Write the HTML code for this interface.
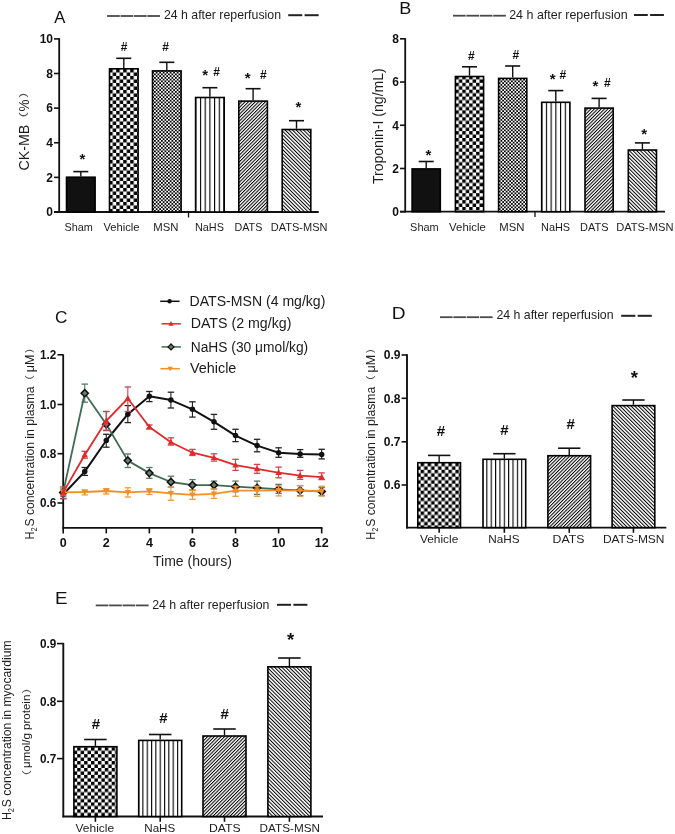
<!DOCTYPE html>
<html><head><meta charset="utf-8"><style>
html,body{margin:0;padding:0;background:#fff;}
svg{display:block;font-family:"Liberation Sans", sans-serif;}
</style></head><body>
<svg width="675" height="834" viewBox="0 0 675 834">
<rect width="675" height="834" fill="#fff"/>

<defs>
 <pattern id="chk" width="7" height="7" patternUnits="userSpaceOnUse">
  <rect width="7" height="7" fill="#fff"/>
  <rect width="3.5" height="3.5" fill="#000"/>
  <rect x="3.5" y="3.5" width="3.5" height="3.5" fill="#000"/>
 </pattern>
 <pattern id="fchk" width="3.5" height="3.5" patternUnits="userSpaceOnUse">
  <rect width="3.5" height="3.5" fill="#fff"/>
  <rect width="1.75" height="1.75" fill="#000"/>
  <rect x="1.75" y="1.75" width="1.75" height="1.75" fill="#000"/>
 </pattern>
 <pattern id="vl" width="4.8" height="10" patternUnits="userSpaceOnUse">
  <rect width="4.8" height="10" fill="#fff"/>
  <rect x="0" width="1.1" height="10" fill="#000"/>
 </pattern>
 <pattern id="dg1" width="2.4" height="10" patternUnits="userSpaceOnUse" patternTransform="rotate(45)">
  <rect width="2.4" height="10" fill="#fff"/>
  <rect width="1.02" height="10" fill="#000"/>
 </pattern>
 <pattern id="dg2" width="2.6" height="10" patternUnits="userSpaceOnUse" patternTransform="rotate(-45)">
  <rect width="2.6" height="10" fill="#fff"/>
  <rect width="1.0" height="10" fill="#000"/>
 </pattern>
</defs>

<defs><pattern id="chkA" x="109.2" y="68.95" width="7.0" height="7.0" patternUnits="userSpaceOnUse"><rect width="7.0" height="7.0" fill="#fff"/><rect width="3.5" height="3.5" fill="#000"/><rect x="3.5" y="3.5" width="3.5" height="3.5" fill="#000"/></pattern><pattern id="vlA" x="199.95" y="0" width="4.7" height="10" patternUnits="userSpaceOnUse"><rect width="4.7" height="10" fill="#fff"/><rect width="1.1" height="10" fill="#000"/></pattern><pattern id="chkB" x="455.4" y="75.9" width="6.9" height="6.9" patternUnits="userSpaceOnUse"><rect width="6.9" height="6.9" fill="#fff"/><rect width="3.45" height="3.45" fill="#000"/><rect x="3.45" y="3.45" width="3.45" height="3.45" fill="#000"/></pattern><pattern id="vlB" x="545.85" y="0" width="4.73" height="10" patternUnits="userSpaceOnUse"><rect width="4.73" height="10" fill="#fff"/><rect width="1.1" height="10" fill="#000"/></pattern><pattern id="chkD" x="420.65" y="462.85" width="6.95" height="6.95" patternUnits="userSpaceOnUse"><rect width="6.95" height="6.95" fill="#fff"/><rect width="3.475" height="3.475" fill="#000"/><rect x="3.475" y="3.475" width="3.475" height="3.475" fill="#000"/></pattern><pattern id="vlD" x="486.31" y="0" width="4.36" height="10" patternUnits="userSpaceOnUse"><rect width="4.36" height="10" fill="#fff"/><rect width="1.1" height="10" fill="#000"/></pattern><pattern id="chkE" x="77.2" y="747.25" width="6.9" height="6.9" patternUnits="userSpaceOnUse"><rect width="6.9" height="6.9" fill="#fff"/><rect width="3.45" height="3.45" fill="#000"/><rect x="3.45" y="3.45" width="3.45" height="3.45" fill="#000"/></pattern><pattern id="vlE" x="142.35" y="0" width="4.325" height="10" patternUnits="userSpaceOnUse"><rect width="4.325" height="10" fill="#fff"/><rect width="1.1" height="10" fill="#000"/></pattern></defs>
<g opacity="0.999">
<text x="54.35" y="23.0" font-size="17" font-weight="normal" text-anchor="start" fill="#111" textLength="11.09" lengthAdjust="spacingAndGlyphs">A</text>
<line x1="107.1" y1="16" x2="119.8" y2="16" stroke="#4a4a4a" stroke-width="1.8"/>
<line x1="120.5" y1="16" x2="133.2" y2="16" stroke="#4a4a4a" stroke-width="1.8"/>
<line x1="133.9" y1="16" x2="146.6" y2="16" stroke="#4a4a4a" stroke-width="1.8"/>
<line x1="147.3" y1="16" x2="160.0" y2="16" stroke="#4a4a4a" stroke-width="1.8"/>
<text x="163.9" y="18.8" font-size="12.4" font-weight="normal" text-anchor="start" fill="#1e1e1e" textLength="117.1" lengthAdjust="spacingAndGlyphs">24 h after reperfusion</text>
<line x1="288.2" y1="15.2" x2="302.3" y2="15.2" stroke="#222" stroke-width="2.0"/>
<line x1="304.6" y1="15.2" x2="318.7" y2="15.2" stroke="#222" stroke-width="2.0"/>
<line x1="59.2" y1="38.2" x2="59.2" y2="212.7" stroke="#111" stroke-width="1.8"/>
<line x1="54" y1="212.0" x2="318.7" y2="212.0" stroke="#111" stroke-width="1.8"/>
<line x1="54" y1="38.900000000000006" x2="59.2" y2="38.900000000000006" stroke="#111" stroke-width="1.6"/>
<text x="53" y="43.2" font-size="12" font-weight="bold" text-anchor="end" fill="#111">10</text>
<line x1="54" y1="73.52000000000001" x2="59.2" y2="73.52000000000001" stroke="#111" stroke-width="1.6"/>
<text x="53" y="77.82000000000001" font-size="12" font-weight="bold" text-anchor="end" fill="#111">8</text>
<line x1="54" y1="108.14000000000001" x2="59.2" y2="108.14000000000001" stroke="#111" stroke-width="1.6"/>
<text x="53" y="112.44000000000001" font-size="12" font-weight="bold" text-anchor="end" fill="#111">6</text>
<line x1="54" y1="142.76" x2="59.2" y2="142.76" stroke="#111" stroke-width="1.6"/>
<text x="53" y="147.06" font-size="12" font-weight="bold" text-anchor="end" fill="#111">4</text>
<line x1="54" y1="177.38" x2="59.2" y2="177.38" stroke="#111" stroke-width="1.6"/>
<text x="53" y="181.68" font-size="12" font-weight="bold" text-anchor="end" fill="#111">2</text>
<line x1="54" y1="212.0" x2="59.2" y2="212.0" stroke="#111" stroke-width="1.6"/>
<text x="53" y="216.3" font-size="12" font-weight="bold" text-anchor="end" fill="#111">0</text>
<line x1="188.5" y1="212.0" x2="188.5" y2="217.5" stroke="#111" stroke-width="1.3"/>
<line x1="80.8" y1="176.4" x2="80.8" y2="171.6" stroke="#111" stroke-width="1.4"/>
<line x1="73.3" y1="171.6" x2="88.3" y2="171.6" stroke="#111" stroke-width="1.6"/>
<rect x="66.50" y="177.20" width="28.60" height="34.80" fill="#111" stroke="#000" stroke-width="1.6"/>
<line x1="123.8" y1="68.0" x2="123.8" y2="58.3" stroke="#111" stroke-width="1.4"/>
<line x1="116.3" y1="58.3" x2="131.3" y2="58.3" stroke="#111" stroke-width="1.6"/>
<rect x="109.50" y="68.80" width="28.60" height="143.20" fill="url(#chkA)" stroke="#000" stroke-width="1.6"/>
<line x1="166.79999999999998" y1="70.1" x2="166.79999999999998" y2="62.3" stroke="#111" stroke-width="1.4"/>
<line x1="159.29999999999998" y1="62.3" x2="174.29999999999998" y2="62.3" stroke="#111" stroke-width="1.6"/>
<rect x="152.50" y="70.90" width="28.60" height="141.10" fill="url(#fchk)" stroke="#000" stroke-width="1.6"/>
<line x1="209.9" y1="96.7" x2="209.9" y2="87.7" stroke="#111" stroke-width="1.4"/>
<line x1="202.4" y1="87.7" x2="217.4" y2="87.7" stroke="#111" stroke-width="1.6"/>
<rect x="195.60" y="97.50" width="28.60" height="114.50" fill="url(#vlA)" stroke="#000" stroke-width="1.6"/>
<line x1="253.1" y1="100.3" x2="253.1" y2="88.7" stroke="#111" stroke-width="1.4"/>
<line x1="245.6" y1="88.7" x2="260.6" y2="88.7" stroke="#111" stroke-width="1.6"/>
<rect x="238.80" y="101.10" width="28.60" height="110.90" fill="url(#dg1)" stroke="#000" stroke-width="1.6"/>
<line x1="296.5" y1="128.7" x2="296.5" y2="120.7" stroke="#111" stroke-width="1.4"/>
<line x1="289.0" y1="120.7" x2="304.0" y2="120.7" stroke="#111" stroke-width="1.6"/>
<rect x="282.20" y="129.50" width="28.60" height="82.50" fill="url(#dg2)" stroke="#000" stroke-width="1.6"/>
<text x="82.47" y="163.75" font-size="15" font-weight="bold" text-anchor="middle" fill="#111">*</text>
<text x="124.04" y="50.6" font-size="12" font-weight="bold" text-anchor="middle" fill="#111">#</text>
<text x="165.49" y="50.85" font-size="12" font-weight="bold" text-anchor="middle" fill="#111">#</text>
<text x="205.27" y="80.15" font-size="15" font-weight="bold" text-anchor="middle" fill="#111">*</text>
<text x="216.49" y="75.6" font-size="12" font-weight="bold" text-anchor="middle" fill="#111">#</text>
<text x="247.57" y="83.35" font-size="15" font-weight="bold" text-anchor="middle" fill="#111">*</text>
<text x="263.34" y="79.05" font-size="12" font-weight="bold" text-anchor="middle" fill="#111">#</text>
<text x="298.47" y="111.85" font-size="15" font-weight="bold" text-anchor="middle" fill="#111">*</text>
<text x="64.5" y="231" font-size="11" font-weight="normal" text-anchor="start" fill="#1c1c1c" textLength="28.4" lengthAdjust="spacingAndGlyphs">Sham</text>
<text x="103.4" y="231" font-size="11" font-weight="normal" text-anchor="start" fill="#1c1c1c" textLength="36.2" lengthAdjust="spacingAndGlyphs">Vehicle</text>
<text x="153.2" y="231" font-size="11" font-weight="normal" text-anchor="start" fill="#1c1c1c" textLength="25.2" lengthAdjust="spacingAndGlyphs">MSN</text>
<text x="194.9" y="231" font-size="11" font-weight="normal" text-anchor="start" fill="#1c1c1c" textLength="29.0" lengthAdjust="spacingAndGlyphs">NaHS</text>
<text x="234.5" y="231" font-size="11" font-weight="normal" text-anchor="start" fill="#1c1c1c" textLength="27.8" lengthAdjust="spacingAndGlyphs">DATS</text>
<text x="270.8" y="231" font-size="11" font-weight="normal" text-anchor="start" fill="#1c1c1c" textLength="56.7" lengthAdjust="spacingAndGlyphs">DATS-MSN</text>
<g transform="translate(29.3,169.7) rotate(-90)"><text x="-0.8" y="0" font-size="15" fill="#1c1c1c" textLength="45.8" lengthAdjust="spacingAndGlyphs">CK-MB</text><text x="52.3" y="-2.9" font-size="8.6" fill="#555" textLength="5.3" lengthAdjust="spacingAndGlyphs">(</text><text x="58.3" y="0" font-size="15" fill="#1c1c1c" textLength="11.9" lengthAdjust="spacingAndGlyphs">%</text><text x="72.0" y="-2.9" font-size="8.6" fill="#555" textLength="5.0" lengthAdjust="spacingAndGlyphs">)</text></g>
<text x="399.31" y="13.9" font-size="17" font-weight="normal" text-anchor="start" fill="#111" textLength="12.03" lengthAdjust="spacingAndGlyphs">B</text>
<line x1="453.0" y1="15.7" x2="465.7" y2="15.7" stroke="#4a4a4a" stroke-width="1.8"/>
<line x1="466.4" y1="15.7" x2="479.1" y2="15.7" stroke="#4a4a4a" stroke-width="1.8"/>
<line x1="479.8" y1="15.7" x2="492.5" y2="15.7" stroke="#4a4a4a" stroke-width="1.8"/>
<line x1="493.2" y1="15.7" x2="505.9" y2="15.7" stroke="#4a4a4a" stroke-width="1.8"/>
<text x="509.2" y="18.8" font-size="12.4" font-weight="normal" text-anchor="start" fill="#1e1e1e" textLength="118.4" lengthAdjust="spacingAndGlyphs">24 h after reperfusion</text>
<line x1="634.0" y1="15.0" x2="647.8" y2="15.0" stroke="#222" stroke-width="2.0"/>
<line x1="650.1" y1="15.0" x2="663.9" y2="15.0" stroke="#222" stroke-width="2.0"/>
<line x1="405.2" y1="38.11999999999999" x2="405.2" y2="212.39999999999998" stroke="#111" stroke-width="1.8"/>
<line x1="400" y1="211.7" x2="665" y2="211.7" stroke="#111" stroke-width="1.8"/>
<line x1="400" y1="38.81999999999999" x2="405.2" y2="38.81999999999999" stroke="#111" stroke-width="1.6"/>
<text x="399" y="43.11999999999999" font-size="12" font-weight="bold" text-anchor="end" fill="#111">8</text>
<line x1="400" y1="82.03999999999999" x2="405.2" y2="82.03999999999999" stroke="#111" stroke-width="1.6"/>
<text x="399" y="86.33999999999999" font-size="12" font-weight="bold" text-anchor="end" fill="#111">6</text>
<line x1="400" y1="125.25999999999999" x2="405.2" y2="125.25999999999999" stroke="#111" stroke-width="1.6"/>
<text x="399" y="129.56" font-size="12" font-weight="bold" text-anchor="end" fill="#111">4</text>
<line x1="400" y1="168.48" x2="405.2" y2="168.48" stroke="#111" stroke-width="1.6"/>
<text x="399" y="172.78" font-size="12" font-weight="bold" text-anchor="end" fill="#111">2</text>
<line x1="400" y1="211.7" x2="405.2" y2="211.7" stroke="#111" stroke-width="1.6"/>
<text x="399" y="216.0" font-size="12" font-weight="bold" text-anchor="end" fill="#111">0</text>
<line x1="535" y1="211.7" x2="535" y2="217" stroke="#111" stroke-width="1.3"/>
<line x1="426.2" y1="168.1" x2="426.2" y2="161.5" stroke="#111" stroke-width="1.4"/>
<line x1="418.7" y1="161.5" x2="433.7" y2="161.5" stroke="#111" stroke-width="1.6"/>
<rect x="412.10" y="168.90" width="28.20" height="42.80" fill="#111" stroke="#000" stroke-width="1.6"/>
<line x1="469.5" y1="75.7" x2="469.5" y2="66.8" stroke="#111" stroke-width="1.4"/>
<line x1="462.0" y1="66.8" x2="477.0" y2="66.8" stroke="#111" stroke-width="1.6"/>
<rect x="455.40" y="76.50" width="28.20" height="135.20" fill="url(#chkB)" stroke="#000" stroke-width="1.6"/>
<line x1="512.7" y1="77.6" x2="512.7" y2="66.0" stroke="#111" stroke-width="1.4"/>
<line x1="505.20000000000005" y1="66.0" x2="520.2" y2="66.0" stroke="#111" stroke-width="1.6"/>
<rect x="498.60" y="78.40" width="28.20" height="133.30" fill="url(#fchk)" stroke="#000" stroke-width="1.6"/>
<line x1="555.8" y1="101.5" x2="555.8" y2="90.6" stroke="#111" stroke-width="1.4"/>
<line x1="548.3" y1="90.6" x2="563.3" y2="90.6" stroke="#111" stroke-width="1.6"/>
<rect x="541.70" y="102.30" width="28.20" height="109.40" fill="url(#vlB)" stroke="#000" stroke-width="1.6"/>
<line x1="599.1" y1="107.3" x2="599.1" y2="98.4" stroke="#111" stroke-width="1.4"/>
<line x1="591.6" y1="98.4" x2="606.6" y2="98.4" stroke="#111" stroke-width="1.6"/>
<rect x="585.00" y="108.10" width="28.20" height="103.60" fill="url(#dg1)" stroke="#000" stroke-width="1.6"/>
<line x1="642.4" y1="149.2" x2="642.4" y2="142.9" stroke="#111" stroke-width="1.4"/>
<line x1="634.9" y1="142.9" x2="649.9" y2="142.9" stroke="#111" stroke-width="1.6"/>
<rect x="628.30" y="150.00" width="28.20" height="61.70" fill="url(#dg2)" stroke="#000" stroke-width="1.6"/>
<text x="428.47" y="159.55" font-size="15" font-weight="bold" text-anchor="middle" fill="#111">*</text>
<text x="471.34" y="59.55" font-size="12" font-weight="bold" text-anchor="middle" fill="#111">#</text>
<text x="515.74" y="58.85" font-size="12" font-weight="bold" text-anchor="middle" fill="#111">#</text>
<text x="552.67" y="84.15" font-size="15" font-weight="bold" text-anchor="middle" fill="#111">*</text>
<text x="562.84" y="79.25" font-size="12" font-weight="bold" text-anchor="middle" fill="#111">#</text>
<text x="595.47" y="91.05" font-size="15" font-weight="bold" text-anchor="middle" fill="#111">*</text>
<text x="607.44" y="86.95" font-size="12" font-weight="bold" text-anchor="middle" fill="#111">#</text>
<text x="644.27" y="138.95" font-size="15" font-weight="bold" text-anchor="middle" fill="#111">*</text>
<text x="410.1" y="231.3" font-size="11" font-weight="normal" text-anchor="start" fill="#1c1c1c" textLength="28.6" lengthAdjust="spacingAndGlyphs">Sham</text>
<text x="449.1" y="231.3" font-size="11" font-weight="normal" text-anchor="start" fill="#1c1c1c" textLength="36.7" lengthAdjust="spacingAndGlyphs">Vehicle</text>
<text x="499.2" y="231.3" font-size="11" font-weight="normal" text-anchor="start" fill="#1c1c1c" textLength="25.2" lengthAdjust="spacingAndGlyphs">MSN</text>
<text x="541.0" y="231.3" font-size="11" font-weight="normal" text-anchor="start" fill="#1c1c1c" textLength="29.1" lengthAdjust="spacingAndGlyphs">NaHS</text>
<text x="580.1" y="231.3" font-size="11" font-weight="normal" text-anchor="start" fill="#1c1c1c" textLength="28.4" lengthAdjust="spacingAndGlyphs">DATS</text>
<text x="616.2" y="231.3" font-size="11" font-weight="normal" text-anchor="start" fill="#1c1c1c" textLength="57.3" lengthAdjust="spacingAndGlyphs">DATS-MSN</text>
<g transform="translate(382.9,183.8) rotate(-90)"><text x="-0.3" y="0" font-size="14.3" fill="#1c1c1c" textLength="115.9" lengthAdjust="spacingAndGlyphs">Troponin-I (ng/mL)</text></g>
<text x="55.14" y="322.6" font-size="17" font-weight="normal" text-anchor="start" fill="#111" textLength="12.45" lengthAdjust="spacingAndGlyphs">C</text>
<line x1="63.2" y1="354.3" x2="63.2" y2="528.6999999999999" stroke="#111" stroke-width="1.8"/>
<line x1="62.400000000000006" y1="527.9" x2="322.48" y2="527.9" stroke="#111" stroke-width="1.8"/>
<line x1="57.5" y1="354.8" x2="63.2" y2="354.8" stroke="#111" stroke-width="1.6"/>
<text x="56.4" y="359.15000000000003" font-size="12.5" font-weight="bold" text-anchor="end" fill="#111" textLength="16.3" lengthAdjust="spacingAndGlyphs">1.2</text>
<line x1="57.5" y1="404.5" x2="63.2" y2="404.5" stroke="#111" stroke-width="1.6"/>
<text x="56.4" y="408.85" font-size="12.5" font-weight="bold" text-anchor="end" fill="#111" textLength="16.3" lengthAdjust="spacingAndGlyphs">1.0</text>
<line x1="57.5" y1="453.7" x2="63.2" y2="453.7" stroke="#111" stroke-width="1.6"/>
<text x="56.4" y="458.05" font-size="12.5" font-weight="bold" text-anchor="end" fill="#111" textLength="16.3" lengthAdjust="spacingAndGlyphs">0.8</text>
<line x1="57.5" y1="503.0" x2="63.2" y2="503.0" stroke="#111" stroke-width="1.6"/>
<text x="56.4" y="507.35" font-size="12.5" font-weight="bold" text-anchor="end" fill="#111" textLength="16.3" lengthAdjust="spacingAndGlyphs">0.6</text>
<line x1="63.2" y1="527.9" x2="63.2" y2="533.4" stroke="#111" stroke-width="1.6"/>
<text x="63.2" y="546.5" font-size="12.5" font-weight="bold" text-anchor="middle" fill="#111">0</text>
<line x1="106.28" y1="527.9" x2="106.28" y2="533.4" stroke="#111" stroke-width="1.6"/>
<text x="106.28" y="546.5" font-size="12.5" font-weight="bold" text-anchor="middle" fill="#111">2</text>
<line x1="149.36" y1="527.9" x2="149.36" y2="533.4" stroke="#111" stroke-width="1.6"/>
<text x="149.36" y="546.5" font-size="12.5" font-weight="bold" text-anchor="middle" fill="#111">4</text>
<line x1="192.44" y1="527.9" x2="192.44" y2="533.4" stroke="#111" stroke-width="1.6"/>
<text x="192.44" y="546.5" font-size="12.5" font-weight="bold" text-anchor="middle" fill="#111">6</text>
<line x1="235.51999999999998" y1="527.9" x2="235.51999999999998" y2="533.4" stroke="#111" stroke-width="1.6"/>
<text x="235.51999999999998" y="546.5" font-size="12.5" font-weight="bold" text-anchor="middle" fill="#111">8</text>
<line x1="278.59999999999997" y1="527.9" x2="278.59999999999997" y2="533.4" stroke="#111" stroke-width="1.6"/>
<text x="278.59999999999997" y="546.5" font-size="12.5" font-weight="bold" text-anchor="middle" fill="#111">10</text>
<line x1="321.68" y1="527.9" x2="321.68" y2="533.4" stroke="#111" stroke-width="1.6"/>
<text x="321.68" y="546.5" font-size="12.5" font-weight="bold" text-anchor="middle" fill="#111">12</text>
<text x="153.0" y="565.8" font-size="14" font-weight="normal" text-anchor="start" fill="#222" textLength="78.8" lengthAdjust="spacingAndGlyphs">Time (hours)</text>
<g transform="translate(33.6,538.6) rotate(-90)"><text x="-0.6" y="0" font-size="12.2" fill="#1c1c1c" textLength="7.6" lengthAdjust="spacingAndGlyphs">H</text><text x="7.0" y="3.2" font-size="8.9" fill="#1c1c1c" textLength="4.2" lengthAdjust="spacingAndGlyphs">2</text><text x="12.0" y="0" font-size="12.2" fill="#1c1c1c" textLength="140.0" lengthAdjust="spacingAndGlyphs">S concentration in plasma</text><text x="159.0" y="-1.8" font-size="9" fill="#444" textLength="4.0" lengthAdjust="spacingAndGlyphs">(</text><text x="166.3" y="0" font-size="12.2" fill="#1c1c1c" textLength="17.7" lengthAdjust="spacingAndGlyphs">μM</text><text x="185.8" y="-1.8" font-size="9" fill="#444" textLength="3.8" lengthAdjust="spacingAndGlyphs">)</text></g>
<line x1="63.2" y1="490.5" x2="63.2" y2="498.5" stroke="#222" stroke-width="1.1"/>
<line x1="60.0" y1="490.5" x2="66.4" y2="490.5" stroke="#222" stroke-width="1.3"/>
<line x1="60.0" y1="498.5" x2="66.4" y2="498.5" stroke="#222" stroke-width="1.3"/>
<line x1="84.74000000000001" y1="467.5" x2="84.74000000000001" y2="475.4" stroke="#222" stroke-width="1.1"/>
<line x1="81.54" y1="467.5" x2="87.94000000000001" y2="467.5" stroke="#222" stroke-width="1.3"/>
<line x1="81.54" y1="475.4" x2="87.94000000000001" y2="475.4" stroke="#222" stroke-width="1.3"/>
<line x1="106.28" y1="434.3" x2="106.28" y2="447.2" stroke="#222" stroke-width="1.1"/>
<line x1="103.08" y1="434.3" x2="109.48" y2="434.3" stroke="#222" stroke-width="1.3"/>
<line x1="103.08" y1="447.2" x2="109.48" y2="447.2" stroke="#222" stroke-width="1.3"/>
<line x1="127.82000000000001" y1="405.6" x2="127.82000000000001" y2="422.6" stroke="#222" stroke-width="1.1"/>
<line x1="124.62" y1="405.6" x2="131.02" y2="405.6" stroke="#222" stroke-width="1.3"/>
<line x1="124.62" y1="422.6" x2="131.02" y2="422.6" stroke="#222" stroke-width="1.3"/>
<line x1="149.36" y1="391.5" x2="149.36" y2="401.6" stroke="#222" stroke-width="1.1"/>
<line x1="146.16000000000003" y1="391.5" x2="152.56" y2="391.5" stroke="#222" stroke-width="1.3"/>
<line x1="146.16000000000003" y1="401.6" x2="152.56" y2="401.6" stroke="#222" stroke-width="1.3"/>
<line x1="170.89999999999998" y1="392.2" x2="170.89999999999998" y2="408" stroke="#222" stroke-width="1.1"/>
<line x1="167.7" y1="392.2" x2="174.09999999999997" y2="392.2" stroke="#222" stroke-width="1.3"/>
<line x1="167.7" y1="408" x2="174.09999999999997" y2="408" stroke="#222" stroke-width="1.3"/>
<line x1="192.44" y1="401.8" x2="192.44" y2="417.1" stroke="#222" stroke-width="1.1"/>
<line x1="189.24" y1="401.8" x2="195.64" y2="401.8" stroke="#222" stroke-width="1.3"/>
<line x1="189.24" y1="417.1" x2="195.64" y2="417.1" stroke="#222" stroke-width="1.3"/>
<line x1="213.98000000000002" y1="414.4" x2="213.98000000000002" y2="429.3" stroke="#222" stroke-width="1.1"/>
<line x1="210.78000000000003" y1="414.4" x2="217.18" y2="414.4" stroke="#222" stroke-width="1.3"/>
<line x1="210.78000000000003" y1="429.3" x2="217.18" y2="429.3" stroke="#222" stroke-width="1.3"/>
<line x1="235.51999999999998" y1="429.3" x2="235.51999999999998" y2="441.6" stroke="#222" stroke-width="1.1"/>
<line x1="232.32" y1="429.3" x2="238.71999999999997" y2="429.3" stroke="#222" stroke-width="1.3"/>
<line x1="232.32" y1="441.6" x2="238.71999999999997" y2="441.6" stroke="#222" stroke-width="1.3"/>
<line x1="257.06" y1="439.3" x2="257.06" y2="451.8" stroke="#222" stroke-width="1.1"/>
<line x1="253.86" y1="439.3" x2="260.26" y2="439.3" stroke="#222" stroke-width="1.3"/>
<line x1="253.86" y1="451.8" x2="260.26" y2="451.8" stroke="#222" stroke-width="1.3"/>
<line x1="278.59999999999997" y1="447.8" x2="278.59999999999997" y2="457.3" stroke="#222" stroke-width="1.1"/>
<line x1="275.4" y1="447.8" x2="281.79999999999995" y2="447.8" stroke="#222" stroke-width="1.3"/>
<line x1="275.4" y1="457.3" x2="281.79999999999995" y2="457.3" stroke="#222" stroke-width="1.3"/>
<line x1="300.14" y1="449.6" x2="300.14" y2="457.3" stroke="#222" stroke-width="1.1"/>
<line x1="296.94" y1="449.6" x2="303.34" y2="449.6" stroke="#222" stroke-width="1.3"/>
<line x1="296.94" y1="457.3" x2="303.34" y2="457.3" stroke="#222" stroke-width="1.3"/>
<line x1="321.68" y1="449.3" x2="321.68" y2="458.9" stroke="#222" stroke-width="1.1"/>
<line x1="318.48" y1="449.3" x2="324.88" y2="449.3" stroke="#222" stroke-width="1.3"/>
<line x1="318.48" y1="458.9" x2="324.88" y2="458.9" stroke="#222" stroke-width="1.3"/>
<path d="M63.20,494.50 L84.74,471.60 L106.28,440.50 L127.82,414.20 L149.36,396.30 L170.90,400.10 L192.44,409.30 L213.98,421.80 L235.52,435.60 L257.06,445.60 L278.60,452.70 L300.14,454.00 L321.68,454.40" fill="none" stroke="#111" stroke-width="2.0" stroke-linejoin="round"/>
<circle cx="63.20" cy="494.50" r="2.75" fill="#111"/>
<circle cx="84.74" cy="471.60" r="2.75" fill="#111"/>
<circle cx="106.28" cy="440.50" r="2.75" fill="#111"/>
<circle cx="127.82" cy="414.20" r="2.75" fill="#111"/>
<circle cx="149.36" cy="396.30" r="2.75" fill="#111"/>
<circle cx="170.90" cy="400.10" r="2.75" fill="#111"/>
<circle cx="192.44" cy="409.30" r="2.75" fill="#111"/>
<circle cx="213.98" cy="421.80" r="2.75" fill="#111"/>
<circle cx="235.52" cy="435.60" r="2.75" fill="#111"/>
<circle cx="257.06" cy="445.60" r="2.75" fill="#111"/>
<circle cx="278.60" cy="452.70" r="2.75" fill="#111"/>
<circle cx="300.14" cy="454.00" r="2.75" fill="#111"/>
<circle cx="321.68" cy="454.40" r="2.75" fill="#111"/>
<line x1="63.2" y1="489" x2="63.2" y2="496" stroke="#557766" stroke-width="1.1"/>
<line x1="60.0" y1="489" x2="66.4" y2="489" stroke="#557766" stroke-width="1.3"/>
<line x1="60.0" y1="496" x2="66.4" y2="496" stroke="#557766" stroke-width="1.3"/>
<line x1="84.74000000000001" y1="384.1" x2="84.74000000000001" y2="402.2" stroke="#557766" stroke-width="1.1"/>
<line x1="81.54" y1="384.1" x2="87.94000000000001" y2="384.1" stroke="#557766" stroke-width="1.3"/>
<line x1="81.54" y1="402.2" x2="87.94000000000001" y2="402.2" stroke="#557766" stroke-width="1.3"/>
<line x1="106.28" y1="411.5" x2="106.28" y2="430.6" stroke="#557766" stroke-width="1.1"/>
<line x1="103.08" y1="411.5" x2="109.48" y2="411.5" stroke="#557766" stroke-width="1.3"/>
<line x1="103.08" y1="430.6" x2="109.48" y2="430.6" stroke="#557766" stroke-width="1.3"/>
<line x1="127.82000000000001" y1="454" x2="127.82000000000001" y2="467.5" stroke="#557766" stroke-width="1.1"/>
<line x1="124.62" y1="454" x2="131.02" y2="454" stroke="#557766" stroke-width="1.3"/>
<line x1="124.62" y1="467.5" x2="131.02" y2="467.5" stroke="#557766" stroke-width="1.3"/>
<line x1="149.36" y1="467.5" x2="149.36" y2="478.3" stroke="#557766" stroke-width="1.1"/>
<line x1="146.16000000000003" y1="467.5" x2="152.56" y2="467.5" stroke="#557766" stroke-width="1.3"/>
<line x1="146.16000000000003" y1="478.3" x2="152.56" y2="478.3" stroke="#557766" stroke-width="1.3"/>
<line x1="170.89999999999998" y1="476.2" x2="170.89999999999998" y2="487.2" stroke="#557766" stroke-width="1.1"/>
<line x1="167.7" y1="476.2" x2="174.09999999999997" y2="476.2" stroke="#557766" stroke-width="1.3"/>
<line x1="167.7" y1="487.2" x2="174.09999999999997" y2="487.2" stroke="#557766" stroke-width="1.3"/>
<line x1="192.44" y1="479.6" x2="192.44" y2="490" stroke="#557766" stroke-width="1.1"/>
<line x1="189.24" y1="479.6" x2="195.64" y2="479.6" stroke="#557766" stroke-width="1.3"/>
<line x1="189.24" y1="490" x2="195.64" y2="490" stroke="#557766" stroke-width="1.3"/>
<line x1="213.98000000000002" y1="481.1" x2="213.98000000000002" y2="488.9" stroke="#557766" stroke-width="1.1"/>
<line x1="210.78000000000003" y1="481.1" x2="217.18" y2="481.1" stroke="#557766" stroke-width="1.3"/>
<line x1="210.78000000000003" y1="488.9" x2="217.18" y2="488.9" stroke="#557766" stroke-width="1.3"/>
<line x1="235.51999999999998" y1="481.1" x2="235.51999999999998" y2="491.8" stroke="#557766" stroke-width="1.1"/>
<line x1="232.32" y1="481.1" x2="238.71999999999997" y2="481.1" stroke="#557766" stroke-width="1.3"/>
<line x1="232.32" y1="491.8" x2="238.71999999999997" y2="491.8" stroke="#557766" stroke-width="1.3"/>
<line x1="257.06" y1="481.1" x2="257.06" y2="494.4" stroke="#557766" stroke-width="1.1"/>
<line x1="253.86" y1="481.1" x2="260.26" y2="481.1" stroke="#557766" stroke-width="1.3"/>
<line x1="253.86" y1="494.4" x2="260.26" y2="494.4" stroke="#557766" stroke-width="1.3"/>
<line x1="278.59999999999997" y1="484.4" x2="278.59999999999997" y2="493.3" stroke="#557766" stroke-width="1.1"/>
<line x1="275.4" y1="484.4" x2="281.79999999999995" y2="484.4" stroke="#557766" stroke-width="1.3"/>
<line x1="275.4" y1="493.3" x2="281.79999999999995" y2="493.3" stroke="#557766" stroke-width="1.3"/>
<line x1="300.14" y1="485.6" x2="300.14" y2="495.6" stroke="#557766" stroke-width="1.1"/>
<line x1="296.94" y1="485.6" x2="303.34" y2="485.6" stroke="#557766" stroke-width="1.3"/>
<line x1="296.94" y1="495.6" x2="303.34" y2="495.6" stroke="#557766" stroke-width="1.3"/>
<line x1="321.68" y1="487.3" x2="321.68" y2="495.6" stroke="#557766" stroke-width="1.1"/>
<line x1="318.48" y1="487.3" x2="324.88" y2="487.3" stroke="#557766" stroke-width="1.3"/>
<line x1="318.48" y1="495.6" x2="324.88" y2="495.6" stroke="#557766" stroke-width="1.3"/>
<path d="M63.20,492.40 L84.74,393.20 L106.28,424.30 L127.82,460.60 L149.36,473.10 L170.90,482.00 L192.44,485.10 L213.98,485.10 L235.52,486.70 L257.06,487.80 L278.60,489.30 L300.14,490.40 L321.68,491.60" fill="none" stroke="#3f6b55" stroke-width="1.8" stroke-linejoin="round"/>
<path d="M63.20,488.80 L66.80,492.40 L63.20,496.00 L59.60,492.40 Z" fill="#6e7a72" stroke="#111" stroke-width="1.5"/>
<path d="M84.74,389.60 L88.34,393.20 L84.74,396.80 L81.14,393.20 Z" fill="#6e7a72" stroke="#111" stroke-width="1.5"/>
<path d="M106.28,420.70 L109.88,424.30 L106.28,427.90 L102.68,424.30 Z" fill="#6e7a72" stroke="#111" stroke-width="1.5"/>
<path d="M127.82,457.00 L131.42,460.60 L127.82,464.20 L124.22,460.60 Z" fill="#6e7a72" stroke="#111" stroke-width="1.5"/>
<path d="M149.36,469.50 L152.96,473.10 L149.36,476.70 L145.76,473.10 Z" fill="#6e7a72" stroke="#111" stroke-width="1.5"/>
<path d="M170.90,478.40 L174.50,482.00 L170.90,485.60 L167.30,482.00 Z" fill="#6e7a72" stroke="#111" stroke-width="1.5"/>
<path d="M192.44,481.50 L196.04,485.10 L192.44,488.70 L188.84,485.10 Z" fill="#6e7a72" stroke="#111" stroke-width="1.5"/>
<path d="M213.98,481.50 L217.58,485.10 L213.98,488.70 L210.38,485.10 Z" fill="#6e7a72" stroke="#111" stroke-width="1.5"/>
<path d="M235.52,483.10 L239.12,486.70 L235.52,490.30 L231.92,486.70 Z" fill="#6e7a72" stroke="#111" stroke-width="1.5"/>
<path d="M257.06,484.20 L260.66,487.80 L257.06,491.40 L253.46,487.80 Z" fill="#6e7a72" stroke="#111" stroke-width="1.5"/>
<path d="M278.60,485.70 L282.20,489.30 L278.60,492.90 L275.00,489.30 Z" fill="#6e7a72" stroke="#111" stroke-width="1.5"/>
<path d="M300.14,486.80 L303.74,490.40 L300.14,494.00 L296.54,490.40 Z" fill="#6e7a72" stroke="#111" stroke-width="1.5"/>
<path d="M321.68,488.00 L325.28,491.60 L321.68,495.20 L318.08,491.60 Z" fill="#6e7a72" stroke="#111" stroke-width="1.5"/>
<line x1="63.2" y1="490" x2="63.2" y2="495" stroke="#f09a40" stroke-width="1.1"/>
<line x1="60.0" y1="490" x2="66.4" y2="490" stroke="#f09a40" stroke-width="1.3"/>
<line x1="60.0" y1="495" x2="66.4" y2="495" stroke="#f09a40" stroke-width="1.3"/>
<line x1="84.74000000000001" y1="490" x2="84.74000000000001" y2="494.9" stroke="#f09a40" stroke-width="1.1"/>
<line x1="81.54" y1="490" x2="87.94000000000001" y2="490" stroke="#f09a40" stroke-width="1.3"/>
<line x1="81.54" y1="494.9" x2="87.94000000000001" y2="494.9" stroke="#f09a40" stroke-width="1.3"/>
<line x1="106.28" y1="488.6" x2="106.28" y2="494" stroke="#f09a40" stroke-width="1.1"/>
<line x1="103.08" y1="488.6" x2="109.48" y2="488.6" stroke="#f09a40" stroke-width="1.3"/>
<line x1="103.08" y1="494" x2="109.48" y2="494" stroke="#f09a40" stroke-width="1.3"/>
<line x1="127.82000000000001" y1="487.8" x2="127.82000000000001" y2="497" stroke="#f09a40" stroke-width="1.1"/>
<line x1="124.62" y1="487.8" x2="131.02" y2="487.8" stroke="#f09a40" stroke-width="1.3"/>
<line x1="124.62" y1="497" x2="131.02" y2="497" stroke="#f09a40" stroke-width="1.3"/>
<line x1="149.36" y1="488.6" x2="149.36" y2="494.5" stroke="#f09a40" stroke-width="1.1"/>
<line x1="146.16000000000003" y1="488.6" x2="152.56" y2="488.6" stroke="#f09a40" stroke-width="1.3"/>
<line x1="146.16000000000003" y1="494.5" x2="152.56" y2="494.5" stroke="#f09a40" stroke-width="1.3"/>
<line x1="170.89999999999998" y1="487.2" x2="170.89999999999998" y2="500.3" stroke="#f09a40" stroke-width="1.1"/>
<line x1="167.7" y1="487.2" x2="174.09999999999997" y2="487.2" stroke="#f09a40" stroke-width="1.3"/>
<line x1="167.7" y1="500.3" x2="174.09999999999997" y2="500.3" stroke="#f09a40" stroke-width="1.3"/>
<line x1="192.44" y1="490.7" x2="192.44" y2="499.3" stroke="#f09a40" stroke-width="1.1"/>
<line x1="189.24" y1="490.7" x2="195.64" y2="490.7" stroke="#f09a40" stroke-width="1.3"/>
<line x1="189.24" y1="499.3" x2="195.64" y2="499.3" stroke="#f09a40" stroke-width="1.3"/>
<line x1="213.98000000000002" y1="488.9" x2="213.98000000000002" y2="498.4" stroke="#f09a40" stroke-width="1.1"/>
<line x1="210.78000000000003" y1="488.9" x2="217.18" y2="488.9" stroke="#f09a40" stroke-width="1.3"/>
<line x1="210.78000000000003" y1="498.4" x2="217.18" y2="498.4" stroke="#f09a40" stroke-width="1.3"/>
<line x1="235.51999999999998" y1="486.3" x2="235.51999999999998" y2="496.3" stroke="#f09a40" stroke-width="1.1"/>
<line x1="232.32" y1="486.3" x2="238.71999999999997" y2="486.3" stroke="#f09a40" stroke-width="1.3"/>
<line x1="232.32" y1="496.3" x2="238.71999999999997" y2="496.3" stroke="#f09a40" stroke-width="1.3"/>
<line x1="257.06" y1="486.3" x2="257.06" y2="496.3" stroke="#f09a40" stroke-width="1.1"/>
<line x1="253.86" y1="486.3" x2="260.26" y2="486.3" stroke="#f09a40" stroke-width="1.3"/>
<line x1="253.86" y1="496.3" x2="260.26" y2="496.3" stroke="#f09a40" stroke-width="1.3"/>
<line x1="278.59999999999997" y1="486.0" x2="278.59999999999997" y2="495.9" stroke="#f09a40" stroke-width="1.1"/>
<line x1="275.4" y1="486.0" x2="281.79999999999995" y2="486.0" stroke="#f09a40" stroke-width="1.3"/>
<line x1="275.4" y1="495.9" x2="281.79999999999995" y2="495.9" stroke="#f09a40" stroke-width="1.3"/>
<line x1="300.14" y1="485.6" x2="300.14" y2="496.2" stroke="#f09a40" stroke-width="1.1"/>
<line x1="296.94" y1="485.6" x2="303.34" y2="485.6" stroke="#f09a40" stroke-width="1.3"/>
<line x1="296.94" y1="496.2" x2="303.34" y2="496.2" stroke="#f09a40" stroke-width="1.3"/>
<line x1="321.68" y1="486.2" x2="321.68" y2="496.0" stroke="#f09a40" stroke-width="1.1"/>
<line x1="318.48" y1="486.2" x2="324.88" y2="486.2" stroke="#f09a40" stroke-width="1.3"/>
<line x1="318.48" y1="496.0" x2="324.88" y2="496.0" stroke="#f09a40" stroke-width="1.3"/>
<path d="M63.20,492.40 L84.74,492.00 L106.28,491.00 L127.82,492.40 L149.36,491.30 L170.90,493.40 L192.44,494.90 L213.98,493.80 L235.52,490.70 L257.06,490.70 L278.60,490.40 L300.14,490.60 L321.68,491.00" fill="none" stroke="#f0902a" stroke-width="1.8" stroke-linejoin="round"/>
<path d="M60.00,490.10 L66.40,490.10 L63.20,495.60 Z" fill="#f0902a"/>
<path d="M81.54,489.70 L87.94,489.70 L84.74,495.20 Z" fill="#f0902a"/>
<path d="M103.08,488.70 L109.48,488.70 L106.28,494.20 Z" fill="#f0902a"/>
<path d="M124.62,490.10 L131.02,490.10 L127.82,495.60 Z" fill="#f0902a"/>
<path d="M146.16,489.00 L152.56,489.00 L149.36,494.50 Z" fill="#f0902a"/>
<path d="M167.70,491.10 L174.10,491.10 L170.90,496.60 Z" fill="#f0902a"/>
<path d="M189.24,492.60 L195.64,492.60 L192.44,498.10 Z" fill="#f0902a"/>
<path d="M210.78,491.50 L217.18,491.50 L213.98,497.00 Z" fill="#f0902a"/>
<path d="M232.32,488.40 L238.72,488.40 L235.52,493.90 Z" fill="#f0902a"/>
<path d="M253.86,488.40 L260.26,488.40 L257.06,493.90 Z" fill="#f0902a"/>
<path d="M275.40,488.10 L281.80,488.10 L278.60,493.60 Z" fill="#f0902a"/>
<path d="M296.94,488.30 L303.34,488.30 L300.14,493.80 Z" fill="#f0902a"/>
<path d="M318.48,488.70 L324.88,488.70 L321.68,494.20 Z" fill="#f0902a"/>
<line x1="63.2" y1="487" x2="63.2" y2="498.7" stroke="#d04050" stroke-width="1.1"/>
<line x1="60.0" y1="487" x2="66.4" y2="487" stroke="#d04050" stroke-width="1.3"/>
<line x1="60.0" y1="498.7" x2="66.4" y2="498.7" stroke="#d04050" stroke-width="1.3"/>
<line x1="84.74000000000001" y1="451.3" x2="84.74000000000001" y2="458.2" stroke="#d04050" stroke-width="1.1"/>
<line x1="81.54" y1="451.3" x2="87.94000000000001" y2="451.3" stroke="#d04050" stroke-width="1.3"/>
<line x1="81.54" y1="458.2" x2="87.94000000000001" y2="458.2" stroke="#d04050" stroke-width="1.3"/>
<line x1="106.28" y1="411.5" x2="106.28" y2="430.2" stroke="#d04050" stroke-width="1.1"/>
<line x1="103.08" y1="411.5" x2="109.48" y2="411.5" stroke="#d04050" stroke-width="1.3"/>
<line x1="103.08" y1="430.2" x2="109.48" y2="430.2" stroke="#d04050" stroke-width="1.3"/>
<line x1="127.82000000000001" y1="387" x2="127.82000000000001" y2="411.5" stroke="#d04050" stroke-width="1.1"/>
<line x1="124.62" y1="387" x2="131.02" y2="387" stroke="#d04050" stroke-width="1.3"/>
<line x1="124.62" y1="411.5" x2="131.02" y2="411.5" stroke="#d04050" stroke-width="1.3"/>
<line x1="149.36" y1="425" x2="149.36" y2="429" stroke="#d04050" stroke-width="1.1"/>
<line x1="146.16000000000003" y1="425" x2="152.56" y2="425" stroke="#d04050" stroke-width="1.3"/>
<line x1="146.16000000000003" y1="429" x2="152.56" y2="429" stroke="#d04050" stroke-width="1.3"/>
<line x1="170.89999999999998" y1="437.8" x2="170.89999999999998" y2="445.1" stroke="#d04050" stroke-width="1.1"/>
<line x1="167.7" y1="437.8" x2="174.09999999999997" y2="437.8" stroke="#d04050" stroke-width="1.3"/>
<line x1="167.7" y1="445.1" x2="174.09999999999997" y2="445.1" stroke="#d04050" stroke-width="1.3"/>
<line x1="192.44" y1="449.4" x2="192.44" y2="455.5" stroke="#d04050" stroke-width="1.1"/>
<line x1="189.24" y1="449.4" x2="195.64" y2="449.4" stroke="#d04050" stroke-width="1.3"/>
<line x1="189.24" y1="455.5" x2="195.64" y2="455.5" stroke="#d04050" stroke-width="1.3"/>
<line x1="213.98000000000002" y1="453.8" x2="213.98000000000002" y2="461.1" stroke="#d04050" stroke-width="1.1"/>
<line x1="210.78000000000003" y1="453.8" x2="217.18" y2="453.8" stroke="#d04050" stroke-width="1.3"/>
<line x1="210.78000000000003" y1="461.1" x2="217.18" y2="461.1" stroke="#d04050" stroke-width="1.3"/>
<line x1="235.51999999999998" y1="459.3" x2="235.51999999999998" y2="470.4" stroke="#d04050" stroke-width="1.1"/>
<line x1="232.32" y1="459.3" x2="238.71999999999997" y2="459.3" stroke="#d04050" stroke-width="1.3"/>
<line x1="232.32" y1="470.4" x2="238.71999999999997" y2="470.4" stroke="#d04050" stroke-width="1.3"/>
<line x1="257.06" y1="464.4" x2="257.06" y2="473.3" stroke="#d04050" stroke-width="1.1"/>
<line x1="253.86" y1="464.4" x2="260.26" y2="464.4" stroke="#d04050" stroke-width="1.3"/>
<line x1="253.86" y1="473.3" x2="260.26" y2="473.3" stroke="#d04050" stroke-width="1.3"/>
<line x1="278.59999999999997" y1="467.1" x2="278.59999999999997" y2="477.8" stroke="#d04050" stroke-width="1.1"/>
<line x1="275.4" y1="467.1" x2="281.79999999999995" y2="467.1" stroke="#d04050" stroke-width="1.3"/>
<line x1="275.4" y1="477.8" x2="281.79999999999995" y2="477.8" stroke="#d04050" stroke-width="1.3"/>
<line x1="300.14" y1="470.4" x2="300.14" y2="479.3" stroke="#d04050" stroke-width="1.1"/>
<line x1="296.94" y1="470.4" x2="303.34" y2="470.4" stroke="#d04050" stroke-width="1.3"/>
<line x1="296.94" y1="479.3" x2="303.34" y2="479.3" stroke="#d04050" stroke-width="1.3"/>
<line x1="321.68" y1="472.9" x2="321.68" y2="479.6" stroke="#d04050" stroke-width="1.1"/>
<line x1="318.48" y1="472.9" x2="324.88" y2="472.9" stroke="#d04050" stroke-width="1.3"/>
<line x1="318.48" y1="479.6" x2="324.88" y2="479.6" stroke="#d04050" stroke-width="1.3"/>
<path d="M63.20,492.40 L84.74,455.00 L106.28,420.80 L127.82,398.50 L149.36,427.00 L170.90,442.20 L192.44,452.70 L213.98,457.80 L235.52,465.10 L257.06,468.90 L278.60,472.70 L300.14,475.60 L321.68,477.10" fill="none" stroke="#e02a2a" stroke-width="1.8" stroke-linejoin="round"/>
<path d="M63.20,489.00 L66.40,494.70 L60.00,494.70 Z" fill="#e02a2a"/>
<path d="M84.74,451.60 L87.94,457.30 L81.54,457.30 Z" fill="#e02a2a"/>
<path d="M106.28,417.40 L109.48,423.10 L103.08,423.10 Z" fill="#e02a2a"/>
<path d="M127.82,395.10 L131.02,400.80 L124.62,400.80 Z" fill="#e02a2a"/>
<path d="M149.36,423.60 L152.56,429.30 L146.16,429.30 Z" fill="#e02a2a"/>
<path d="M170.90,438.80 L174.10,444.50 L167.70,444.50 Z" fill="#e02a2a"/>
<path d="M192.44,449.30 L195.64,455.00 L189.24,455.00 Z" fill="#e02a2a"/>
<path d="M213.98,454.40 L217.18,460.10 L210.78,460.10 Z" fill="#e02a2a"/>
<path d="M235.52,461.70 L238.72,467.40 L232.32,467.40 Z" fill="#e02a2a"/>
<path d="M257.06,465.50 L260.26,471.20 L253.86,471.20 Z" fill="#e02a2a"/>
<path d="M278.60,469.30 L281.80,475.00 L275.40,475.00 Z" fill="#e02a2a"/>
<path d="M300.14,472.20 L303.34,477.90 L296.94,477.90 Z" fill="#e02a2a"/>
<path d="M321.68,473.70 L324.88,479.40 L318.48,479.40 Z" fill="#e02a2a"/>
<line x1="160.2" y1="301.3" x2="179.6" y2="301.3" stroke="#111" stroke-width="1.5"/>
<g transform="translate(169.6,301.3) scale(0.82) translate(-169.6,-301.3)"><circle cx="169.60" cy="301.30" r="2.75" fill="#111"/></g>
<text x="189.6" y="306.0" font-size="14" font-weight="normal" text-anchor="start" fill="#1a1a1a" textLength="135.8" lengthAdjust="spacingAndGlyphs">DATS-MSN (4 mg/kg)</text>
<line x1="161.5" y1="323.8" x2="180.9" y2="323.8" stroke="#e02a2a" stroke-width="1.5"/>
<g transform="translate(171.0,323.8) scale(0.82) translate(-171.0,-323.8)"><path d="M171.00,320.40 L174.20,326.10 L167.80,326.10 Z" fill="#e02a2a"/></g>
<text x="190.7" y="328.3" font-size="14" font-weight="normal" text-anchor="start" fill="#1a1a1a" textLength="100.7" lengthAdjust="spacingAndGlyphs">DATS (2 mg/kg)</text>
<line x1="161.5" y1="346.9" x2="180.9" y2="346.9" stroke="#3f6b55" stroke-width="1.5"/>
<g transform="translate(171.0,346.9) scale(0.82) translate(-171.0,-346.9)"><path d="M171.00,343.30 L174.60,346.90 L171.00,350.50 L167.40,346.90 Z" fill="#6e7a72" stroke="#111" stroke-width="1.5"/></g>
<text x="190.7" y="351.5" font-size="14" font-weight="normal" text-anchor="start" fill="#1a1a1a" textLength="117.5" lengthAdjust="spacingAndGlyphs">NaHS (30 μmol/kg)</text>
<line x1="160.4" y1="368.7" x2="179.8" y2="368.7" stroke="#f0902a" stroke-width="1.5"/>
<g transform="translate(170.1,368.7) scale(0.82) translate(-170.1,-368.7)"><path d="M166.90,366.40 L173.30,366.40 L170.10,371.90 Z" fill="#f0902a"/></g>
<text x="189.9" y="373.1" font-size="14" font-weight="normal" text-anchor="start" fill="#1a1a1a" textLength="46.5" lengthAdjust="spacingAndGlyphs">Vehicle</text>
<text x="391.73" y="319.0" font-size="17" font-weight="normal" text-anchor="start" fill="#111" textLength="13.8" lengthAdjust="spacingAndGlyphs">D</text>
<line x1="440.0" y1="317.2" x2="452.62" y2="317.2" stroke="#4a4a4a" stroke-width="1.8"/>
<line x1="453.32" y1="317.2" x2="465.95" y2="317.2" stroke="#4a4a4a" stroke-width="1.8"/>
<line x1="466.65" y1="317.2" x2="479.28" y2="317.2" stroke="#4a4a4a" stroke-width="1.8"/>
<line x1="479.98" y1="317.2" x2="492.6" y2="317.2" stroke="#4a4a4a" stroke-width="1.8"/>
<text x="496.4" y="319.4" font-size="12.4" font-weight="normal" text-anchor="start" fill="#1e1e1e" textLength="117.2" lengthAdjust="spacingAndGlyphs">24 h after reperfusion</text>
<line x1="621.2" y1="315.8" x2="635.35" y2="315.8" stroke="#222" stroke-width="2.0"/>
<line x1="637.65" y1="315.8" x2="651.8" y2="315.8" stroke="#222" stroke-width="2.0"/>
<line x1="407.0" y1="354.3" x2="407.0" y2="528.4" stroke="#111" stroke-width="1.9"/>
<line x1="406.2" y1="527.6" x2="666.3" y2="527.6" stroke="#111" stroke-width="1.9"/>
<line x1="401.6" y1="355.0" x2="407.0" y2="355.0" stroke="#111" stroke-width="1.6"/>
<text x="400.6" y="359.35" font-size="12.5" font-weight="bold" text-anchor="end" fill="#111" textLength="16.8" lengthAdjust="spacingAndGlyphs">0.9</text>
<line x1="401.6" y1="398.3" x2="407.0" y2="398.3" stroke="#111" stroke-width="1.6"/>
<text x="400.6" y="402.65000000000003" font-size="12.5" font-weight="bold" text-anchor="end" fill="#111" textLength="16.8" lengthAdjust="spacingAndGlyphs">0.8</text>
<line x1="401.6" y1="441.8" x2="407.0" y2="441.8" stroke="#111" stroke-width="1.6"/>
<text x="400.6" y="446.15000000000003" font-size="12.5" font-weight="bold" text-anchor="end" fill="#111" textLength="16.8" lengthAdjust="spacingAndGlyphs">0.7</text>
<line x1="401.6" y1="485.0" x2="407.0" y2="485.0" stroke="#111" stroke-width="1.6"/>
<text x="400.6" y="489.35" font-size="12.5" font-weight="bold" text-anchor="end" fill="#111" textLength="16.8" lengthAdjust="spacingAndGlyphs">0.6</text>
<line x1="439.15" y1="461.9" x2="439.15" y2="455.4" stroke="#111" stroke-width="1.4"/>
<line x1="428.0" y1="455.4" x2="450.29999999999995" y2="455.4" stroke="#111" stroke-width="1.6"/>
<rect x="417.80" y="462.70" width="42.70" height="64.90" fill="url(#chkD)" stroke="#000" stroke-width="1.6"/>
<line x1="439.15" y1="527.6" x2="439.15" y2="532.8" stroke="#111" stroke-width="1.6"/>
<line x1="504.34999999999997" y1="458.5" x2="504.34999999999997" y2="453.7" stroke="#111" stroke-width="1.4"/>
<line x1="493.2" y1="453.7" x2="515.5" y2="453.7" stroke="#111" stroke-width="1.6"/>
<rect x="483.00" y="459.30" width="42.70" height="68.30" fill="url(#vlD)" stroke="#000" stroke-width="1.6"/>
<line x1="504.34999999999997" y1="527.6" x2="504.34999999999997" y2="532.8" stroke="#111" stroke-width="1.6"/>
<line x1="569.25" y1="454.9" x2="569.25" y2="448.2" stroke="#111" stroke-width="1.4"/>
<line x1="558.1" y1="448.2" x2="580.4" y2="448.2" stroke="#111" stroke-width="1.6"/>
<rect x="547.90" y="455.70" width="42.70" height="71.90" fill="url(#dg1)" stroke="#000" stroke-width="1.6"/>
<line x1="569.25" y1="527.6" x2="569.25" y2="532.8" stroke="#111" stroke-width="1.6"/>
<line x1="633.4499999999999" y1="404.8" x2="633.4499999999999" y2="400.0" stroke="#111" stroke-width="1.4"/>
<line x1="622.3" y1="400.0" x2="644.5999999999999" y2="400.0" stroke="#111" stroke-width="1.6"/>
<rect x="612.10" y="405.60" width="42.70" height="122.00" fill="url(#dg2)" stroke="#000" stroke-width="1.6"/>
<line x1="633.4499999999999" y1="527.6" x2="633.4499999999999" y2="532.8" stroke="#111" stroke-width="1.6"/>
<text x="441.04" y="436.39" font-size="15" font-weight="bold" text-anchor="middle" fill="#111">#</text>
<text x="504.34" y="434.69" font-size="15" font-weight="bold" text-anchor="middle" fill="#111">#</text>
<text x="570.74" y="428.69" font-size="15" font-weight="bold" text-anchor="middle" fill="#111">#</text>
<text x="634.37" y="384.11" font-size="18.5" font-weight="bold" text-anchor="middle" fill="#111">*</text>
<text x="419.9" y="543.1" font-size="11.5" font-weight="normal" text-anchor="start" fill="#1c1c1c" textLength="38.4" lengthAdjust="spacingAndGlyphs">Vehicle</text>
<text x="488.2" y="543.1" font-size="11.5" font-weight="normal" text-anchor="start" fill="#1c1c1c" textLength="31.3" lengthAdjust="spacingAndGlyphs">NaHS</text>
<text x="552.6" y="543.1" font-size="11.5" font-weight="normal" text-anchor="start" fill="#1c1c1c" textLength="31.9" lengthAdjust="spacingAndGlyphs">DATS</text>
<text x="602.9" y="543.1" font-size="11.5" font-weight="normal" text-anchor="start" fill="#1c1c1c" textLength="61.6" lengthAdjust="spacingAndGlyphs">DATS-MSN</text>
<g transform="translate(374.6,538.8) rotate(-90)"><text x="-0.6" y="0" font-size="12.2" fill="#1c1c1c" textLength="7.6" lengthAdjust="spacingAndGlyphs">H</text><text x="7.0" y="3.2" font-size="8.9" fill="#1c1c1c" textLength="4.2" lengthAdjust="spacingAndGlyphs">2</text><text x="12.0" y="0" font-size="12.2" fill="#1c1c1c" textLength="140.0" lengthAdjust="spacingAndGlyphs">S concentration in plasma</text><text x="159.0" y="-1.8" font-size="9" fill="#444" textLength="4.0" lengthAdjust="spacingAndGlyphs">(</text><text x="166.3" y="0" font-size="12.2" fill="#1c1c1c" textLength="17.7" lengthAdjust="spacingAndGlyphs">μM</text><text x="185.8" y="-1.8" font-size="9" fill="#444" textLength="3.8" lengthAdjust="spacingAndGlyphs">)</text></g>
<text x="54.95" y="603.5" font-size="17" font-weight="normal" text-anchor="start" fill="#111" textLength="12.57" lengthAdjust="spacingAndGlyphs">E</text>
<line x1="95.7" y1="605.4" x2="108.4" y2="605.4" stroke="#4a4a4a" stroke-width="1.8"/>
<line x1="109.1" y1="605.4" x2="121.8" y2="605.4" stroke="#4a4a4a" stroke-width="1.8"/>
<line x1="122.5" y1="605.4" x2="135.2" y2="605.4" stroke="#4a4a4a" stroke-width="1.8"/>
<line x1="135.9" y1="605.4" x2="148.6" y2="605.4" stroke="#4a4a4a" stroke-width="1.8"/>
<text x="152.20000000000002" y="608.5" font-size="12.4" font-weight="normal" text-anchor="start" fill="#1e1e1e" textLength="117.2" lengthAdjust="spacingAndGlyphs">24 h after reperfusion</text>
<line x1="277.0" y1="604.8" x2="291.05" y2="604.8" stroke="#222" stroke-width="2.0"/>
<line x1="293.35" y1="604.8" x2="307.4" y2="604.8" stroke="#222" stroke-width="2.0"/>
<line x1="63.3" y1="642.9" x2="63.3" y2="817.3" stroke="#111" stroke-width="1.9"/>
<line x1="62.5" y1="816.5" x2="323" y2="816.5" stroke="#111" stroke-width="1.9"/>
<line x1="57.0" y1="643.6" x2="63.3" y2="643.6" stroke="#111" stroke-width="1.6"/>
<text x="56.4" y="647.95" font-size="12.5" font-weight="bold" text-anchor="end" fill="#111" textLength="16.3" lengthAdjust="spacingAndGlyphs">0.9</text>
<line x1="57.0" y1="701.3" x2="63.3" y2="701.3" stroke="#111" stroke-width="1.6"/>
<text x="56.4" y="705.65" font-size="12.5" font-weight="bold" text-anchor="end" fill="#111" textLength="16.3" lengthAdjust="spacingAndGlyphs">0.8</text>
<line x1="57.0" y1="758.6" x2="63.3" y2="758.6" stroke="#111" stroke-width="1.6"/>
<text x="56.4" y="762.95" font-size="12.5" font-weight="bold" text-anchor="end" fill="#111" textLength="16.3" lengthAdjust="spacingAndGlyphs">0.7</text>
<line x1="95.39999999999999" y1="745.9" x2="95.39999999999999" y2="739.5" stroke="#111" stroke-width="1.4"/>
<line x1="84.14999999999999" y1="739.5" x2="106.64999999999999" y2="739.5" stroke="#111" stroke-width="1.6"/>
<rect x="73.90" y="746.70" width="43.00" height="69.80" fill="url(#chkE)" stroke="#000" stroke-width="1.6"/>
<line x1="95.39999999999999" y1="816.5" x2="95.39999999999999" y2="821.8" stroke="#111" stroke-width="1.6"/>
<line x1="160.20000000000002" y1="739.6" x2="160.20000000000002" y2="734.5" stroke="#111" stroke-width="1.4"/>
<line x1="148.95000000000002" y1="734.5" x2="171.45000000000002" y2="734.5" stroke="#111" stroke-width="1.6"/>
<rect x="138.70" y="740.40" width="43.00" height="76.10" fill="url(#vlE)" stroke="#000" stroke-width="1.6"/>
<line x1="160.20000000000002" y1="816.5" x2="160.20000000000002" y2="821.8" stroke="#111" stroke-width="1.6"/>
<line x1="224.5" y1="735.2" x2="224.5" y2="729.0" stroke="#111" stroke-width="1.4"/>
<line x1="213.25" y1="729.0" x2="235.75" y2="729.0" stroke="#111" stroke-width="1.6"/>
<rect x="203.00" y="736.00" width="43.00" height="80.50" fill="url(#dg1)" stroke="#000" stroke-width="1.6"/>
<line x1="224.5" y1="816.5" x2="224.5" y2="821.8" stroke="#111" stroke-width="1.6"/>
<line x1="289.40000000000003" y1="666.0" x2="289.40000000000003" y2="658.0" stroke="#111" stroke-width="1.4"/>
<line x1="278.15000000000003" y1="658.0" x2="300.65000000000003" y2="658.0" stroke="#111" stroke-width="1.6"/>
<rect x="267.90" y="666.80" width="43.00" height="149.70" fill="url(#dg2)" stroke="#000" stroke-width="1.6"/>
<line x1="289.40000000000003" y1="816.5" x2="289.40000000000003" y2="821.8" stroke="#111" stroke-width="1.6"/>
<text x="96.04" y="729.39" font-size="15" font-weight="bold" text-anchor="middle" fill="#111">#</text>
<text x="163.54" y="722.69" font-size="15" font-weight="bold" text-anchor="middle" fill="#111">#</text>
<text x="224.74" y="718.89" font-size="15" font-weight="bold" text-anchor="middle" fill="#111">#</text>
<text x="290.67" y="646.41" font-size="18.5" font-weight="bold" text-anchor="middle" fill="#111">*</text>
<text x="75.5" y="831.5" font-size="11.5" font-weight="normal" text-anchor="start" fill="#1c1c1c" textLength="38.6" lengthAdjust="spacingAndGlyphs">Vehicle</text>
<text x="144.3" y="831.5" font-size="11.5" font-weight="normal" text-anchor="start" fill="#1c1c1c" textLength="30.9" lengthAdjust="spacingAndGlyphs">NaHS</text>
<text x="209.0" y="831.5" font-size="11.5" font-weight="normal" text-anchor="start" fill="#1c1c1c" textLength="31.7" lengthAdjust="spacingAndGlyphs">DATS</text>
<text x="259.5" y="831.5" font-size="11.5" font-weight="normal" text-anchor="start" fill="#1c1c1c" textLength="60.5" lengthAdjust="spacingAndGlyphs">DATS-MSN</text>
<g transform="translate(10.7,819.2) rotate(-90)"><text x="-0.6" y="0" font-size="12.0" fill="#1c1c1c" textLength="7.6" lengthAdjust="spacingAndGlyphs">H</text><text x="7.0" y="3.2" font-size="8.7" fill="#1c1c1c" textLength="4.2" lengthAdjust="spacingAndGlyphs">2</text><text x="12.0" y="0" font-size="12.0" fill="#1c1c1c" textLength="166.8" lengthAdjust="spacingAndGlyphs">S concentration in myocardium</text></g>
<g transform="translate(29.8,774.7) rotate(-90)"><text x="-0.3" y="-1.0" font-size="8.6" fill="#555" textLength="4.5" lengthAdjust="spacingAndGlyphs">(</text><text x="6.8" y="0" font-size="10.2" fill="#1c1c1c" textLength="73.2" lengthAdjust="spacingAndGlyphs">μmol/g protein</text><text x="81.3" y="-1.0" font-size="8.6" fill="#555" textLength="4.6" lengthAdjust="spacingAndGlyphs">)</text></g>
</g>
</svg></body></html>
